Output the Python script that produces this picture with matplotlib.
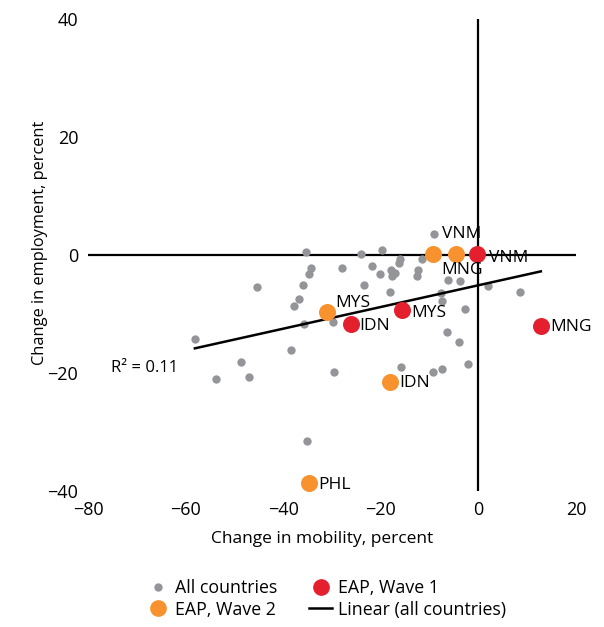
import matplotlib
matplotlib.use("Agg")
import matplotlib.pyplot as plt
from matplotlib.lines import Line2D
import numpy as np

plt.rcParams['font.family'] = ['Open Sans', 'DejaVu Sans']

# all countries: change in mobility (x) vs change in employment (y), percent
all_x = np.array([-35.3, -34.2, -34.8, -28.0, -45.4, -35.9, -36.8, -37.8, -35.7, -29.7,
                  -58.1, -38.3, -48.6, -53.8, -47.1, -29.5, -9.0, -19.8, -24.1, -21.7,
                  -16.0, -16.3, -17.9, -17.1, -20.2, -17.8, -12.3, -12.5, -11.6, -6.3,
                  -3.8, -23.5, -18.1, -7.7, -7.5, 1.9, 8.6, -2.8, -6.4, -3.9,
                  -2.2, -7.4, -9.4, -15.9, -35.1])
all_y = np.array([0.5, -2.2, -3.3, -2.2, -5.4, -5.0, -7.5, -8.6, -11.7, -11.4,
                  -14.2, -16.1, -18.2, -21.0, -20.7, -19.9, 3.5, 0.9, 0.1, -1.8,
                  -0.7, -1.3, -2.5, -3.0, -3.2, -3.6, -2.5, -3.6, -0.7, -4.2,
                  -4.4, -5.1, -6.3, -6.4, -7.8, -5.3, -6.3, -9.2, -13.0, -14.7,
                  -18.4, -19.3, -19.9, -18.9, -31.5])

# EAP, wave 1
w1_names = ['VNM', 'MYS', 'IDN', 'MNG']
w1_x = [-0.2, -15.7, -26.2, 12.8]
w1_y = [0.1, -9.3, -11.7, -12.0]

# EAP, wave 2
w2_names = ['VNM', 'MNG', 'MYS', 'IDN', 'PHL']
w2_x = [-9.2, -4.5, -31.1, -18.1, -34.7]
w2_y = [0.1, 0.1, -9.7, -21.5, -38.7]

# linear trend (all countries)
trend_slope = 0.184
trend_intercept = -5.13
r2_text = 'R² = 0.11'

GRAY = '#939598'
ORANGE = '#F7922E'
RED = '#E5202E'

fig = plt.figure(figsize=(6.04, 6.27), dpi=100)
ax = fig.add_axes([0.1457, 0.2169, 0.8079, 0.7528])

ax.axhline(0, color='black', lw=1.6, zorder=1)
ax.axvline(0, color='black', lw=1.6, zorder=1)

ax.scatter(all_x, all_y, s=36, color=GRAY, lw=0, zorder=2)

# trend spans the full range of countries (EAP ones included)
fx = np.concatenate([all_x, w1_x, w2_x])
tx = np.array([fx.min(), fx.max()])
ax.plot(tx, trend_slope * tx + trend_intercept, color='black', lw=1.8, zorder=3)

ax.scatter(w2_x, w2_y, s=150, color=ORANGE, lw=0, zorder=4)
ax.scatter(w1_x, w1_y, s=150, color=RED, lw=0, zorder=4)

lab_kw = dict(textcoords='offset points', fontsize=12.5, va='center', ha='left', zorder=5)
# wave 2 labels
w2_offsets = [(6, 14.5), (-11, -11.5), (6.5, 6.5), (6.5, -1), (6.5, -1)]
for n, x, y, off in zip(w2_names, w2_x, w2_y, w2_offsets):
    ax.annotate(n, (x, y), xytext=off, **lab_kw)
# wave 1 labels
w1_offsets = [(8.6, -2.5), (6.5, -2), (6.5, -1.5), (6.5, -1)]
for n, x, y, off in zip(w1_names, w1_x, w1_y, w1_offsets):
    ax.annotate(n, (x, y), xytext=off, **lab_kw)

ax.text(-75.2, -19.2, r2_text, fontsize=12, ha='left', va='center')

ax.set_xlim(-80, 20)
ax.set_ylim(-40, 40)
ax.set_xticks([-80, -60, -40, -20, 0, 20])
ax.set_yticks([-40, -20, 0, 20, 40])
ax.tick_params(length=0, labelsize=13, pad=7)
for s in ax.spines.values():
    s.set_visible(False)

ax.set_xlabel('Change in mobility, percent', fontsize=12.5)
ax.set_ylabel('Change in employment, percent', fontsize=11.8)
ax.xaxis.set_label_coords(0.48, -0.085)
ax.yaxis.set_label_coords(-0.0825, 0.525)

handles = [
    Line2D([], [], marker='o', ls='none', color=GRAY, markersize=5),
    Line2D([], [], marker='o', ls='none', color=ORANGE, markersize=11),
    Line2D([], [], marker='o', ls='none', color=RED, markersize=11),
    Line2D([], [], color='black', lw=1.8),
]
labels = ['All countries', 'EAP, Wave 2', 'EAP, Wave 1', 'Linear (all countries)']
fig.legend(handles, labels, ncol=2, loc='center', bbox_to_anchor=(0.54, 0.045),
           frameon=False, fontsize=12.8, handlelength=1.3, handletextpad=0.3,
           columnspacing=1.8, labelspacing=0.2)

fig.savefig('out.png', dpi=100)
